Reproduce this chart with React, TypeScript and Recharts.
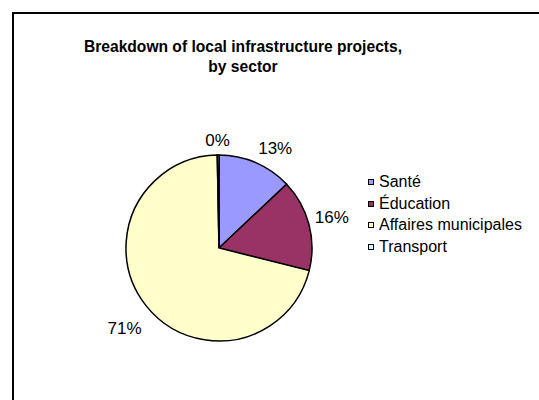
import React from "react";
import { PieChart, Pie, Cell } from "recharts";

// Data
const sectors = ["Santé", "Éducation", "Affaires municipales", "Transport"];
const shares = [13, 16, 71, 0.3];
const colors = ["#9999FF", "#993366", "#FFFFCC", "#CCFFFF"];

const chartData = sectors.map((name, i) => ({ name, value: shares[i] }));
const total = shares.reduce((a, b) => a + b, 0);

const FONT = "'Liberation Sans', Arial, sans-serif";
const RADIAN = Math.PI / 180;

const clamp = (v: number) => Math.max(-1, Math.min(1, v));

// Excel-style outside-end labels: the text box sits just off the rim
const renderLabel = (props: any) => {
  const { cx, cy, midAngle, outerRadius, value } = props;
  const d = outerRadius + 6;
  const cos = Math.cos(-midAngle * RADIAN);
  const sin = Math.sin(-midAngle * RADIAN);
  const px = cx + d * cos;
  const py = cy + d * sin;
  const halfW = 17;
  const halfH = sin > 0 ? 19 : 9;
  const x = px + halfW * clamp(cos * 2.6);
  const y = py + halfH * clamp(sin * 2.6);
  const pct = Math.round((value / total) * 100);
  return (
    <text
      x={x}
      y={y}
      textAnchor="middle"
      dominantBaseline="central"
      fontFamily={FONT}
      fontSize={17}
      fill="#000"
    >
      {pct}%
    </text>
  );
};

const App = () => {
  return (
    <div
      style={{
        position: "absolute",
        left: 0,
        top: 0,
        width: 539,
        height: 400,
        background: "#fff",
        overflow: "hidden",
      }}
    >
      {/* chart frame, clipped at the right and bottom */}
      <div
        style={{
          position: "absolute",
          left: 12,
          top: 12,
          width: 600,
          height: 500,
          borderTop: "2px solid #000",
          borderLeft: "2px solid #000",
        }}
      />
      <div
        style={{
          position: "absolute",
          left: 0,
          top: 37,
          width: 486,
          textAlign: "center",
          fontFamily: FONT,
          fontWeight: "bold",
          fontSize: 15.6,
          lineHeight: "20px",
          color: "#000",
        }}
      >
        Breakdown of local infrastructure projects,
        <br />
        by sector
      </div>
      <div style={{ position: "absolute", left: 0, top: 0 }}>
        <PieChart
          width={539}
          height={400}
          margin={{ top: 0, right: 0, bottom: 0, left: 0 }}
        >
          <Pie
            data={chartData}
            dataKey="value"
            nameKey="name"
            cx={219}
            cy={248}
            outerRadius={93}
            startAngle={90}
            endAngle={-270}
            stroke="#000"
            strokeWidth={1.5}
            label={renderLabel}
            labelLine={false}
            isAnimationActive={false}
          >
            {chartData.map((entry, i) => (
              <Cell key={entry.name} fill={colors[i]} />
            ))}
          </Pie>
        </PieChart>
      </div>
      {/* legend */}
      <div style={{ position: "absolute", left: 368, top: 171.5 }}>
        {sectors.map((name, i) => (
          <div
            key={name}
            style={{
              display: "flex",
              alignItems: "center",
              height: 21.5,
              fontFamily: FONT,
              fontSize: 16,
              color: "#000",
            }}
          >
            <span
              style={{
                display: "inline-block",
                width: 3.5,
                height: 4,
                border: "1.5px solid #000",
                background: colors[i],
                marginRight: 5.5,
              }}
            />
            {name}
          </div>
        ))}
      </div>
    </div>
  );
};

export default App;
